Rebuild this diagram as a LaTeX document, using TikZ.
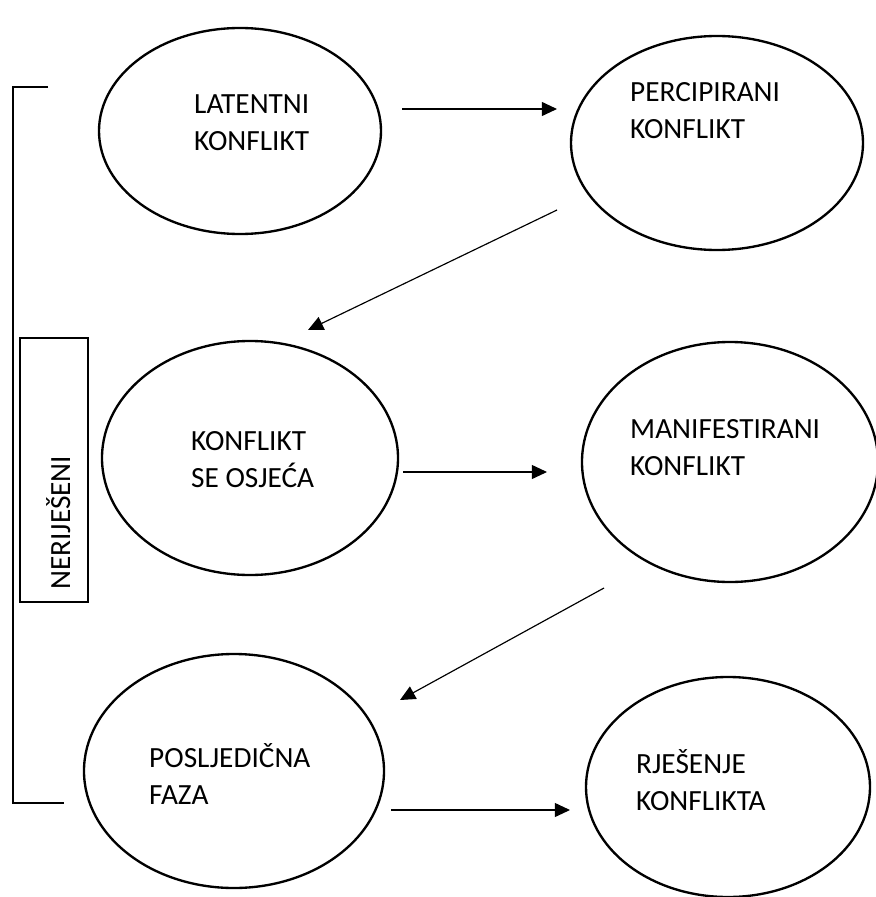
\documentclass[tikz,border=0pt]{standalone}
\usepackage{fontspec}
\setmainfont{Carlito}
\usetikzlibrary{arrows.meta}

\tikzset{
  phase/.style={line width=2pt},
  txt/.style={anchor=base west, align=left, inner sep=0pt,
    font=\fontsize{25pt}{31pt}\selectfont},
  flow/.style={line width=1pt, -{Triangle[length=13pt,width=12pt]}},
  frame/.style={line width=0.9pt}
}

\begin{document}
\begin{tikzpicture}[x=0.03cm,y=-0.03cm]

    \useasboundingbox (0,0) rectangle (876,897);

    \draw[phase] (240,131) ellipse (141 and 103);
    \draw[phase] (717,143) ellipse (146 and 107);
    \draw[phase] (250,458) ellipse (148 and 117);
    \draw[phase] (730,462) ellipse (148 and 120);
    \draw[phase] (234,771) ellipse (150 and 117);
    \draw[phase] (728,787) ellipse (142 and 110);

    % text sits on the baseline of its last line
    \node[txt] (lat) at (194,150) {LATENTNI\\KONFLIKT};
    \node[txt] (per) at (630,138) {PERCIPIRANI\\KONFLIKT};
    \node[txt] (osj) at (191,487) {KONFLIKT\\SE OSJEĆA};
    \node[txt] (man) at (630,475) {MANIFESTIRANI\\KONFLIKT};
    \node[txt] (pos) at (149,804) {POSLJEDIČNA\\FAZA};
    \node[txt] (rje) at (636,810) {RJEŠENJE\\KONFLIKTA};

    % arrow ends
    \coordinate (a1s) at (402,109);  \coordinate (a1e) at (557,109);
    \coordinate (a2s) at (557,210);  \coordinate (a2e) at (308,330);
    \coordinate (a3s) at (403,472);  \coordinate (a3e) at (547,472);
    \coordinate (a4s) at (604,588);  \coordinate (a4e) at (400,700);
    \coordinate (a5s) at (391,810);  \coordinate (a5e) at (570,810);

    \draw[flow] (a1s) to (a1e);
    \draw[flow] (a2s) to (a2e);
    \draw[flow] (a3s) to (a3e);
    \draw[flow] (a4s) to (a4e);
    \draw[flow] (a5s) to (a5e);

    % unresolved
    \draw[frame] (48,87) -- (13,87) -- (13,803) -- (64,803);
    \draw[frame] (20,338) rectangle (88,602);
    \node[txt,rotate=90] (ner) at (70,590) {NERIJEŠENI};

  \end{tikzpicture}
\end{document}
